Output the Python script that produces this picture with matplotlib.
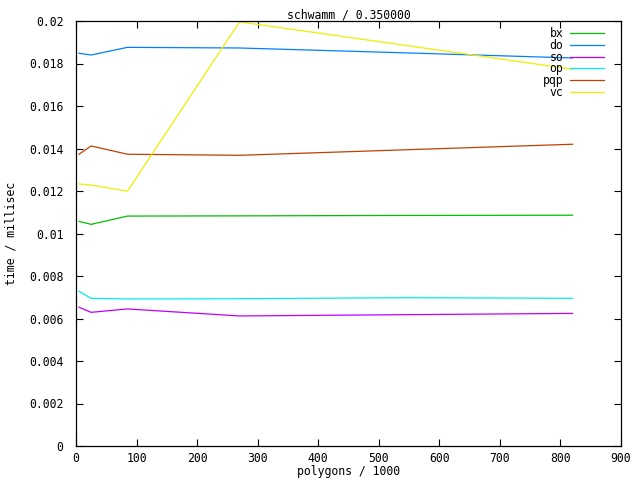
import matplotlib
matplotlib.use("Agg")
import matplotlib.pyplot as plt
from matplotlib.ticker import FuncFormatter, MultipleLocator

polygons = [5, 25, 85, 270, 545, 820]
bx = [0.01057, 0.01043, 0.01082, 0.01083, 0.01085, 0.01086]
do = [0.01848, 0.01840, 0.01876, 0.01873, 0.01850, 0.01826]
so = [0.00653, 0.00629, 0.00645, 0.00612, 0.00618, 0.00624]
op = [0.00728, 0.00695, 0.00692, 0.00693, 0.00698, 0.00695]
pqp = [0.01373, 0.01412, 0.01373, 0.01368, 0.01394, 0.01420]
vc = [0.01233, 0.01228, 0.01199, 0.01996, 0.01885, 0.01773]

series = [("bx", bx, "#00c000"), ("do", do, "#0080ff"), ("so", so, "#c000ff"),
          ("op", op, "#00eeee"), ("pqp", pqp, "#c04000"), ("vc", vc, "#eeee00")]

FS = 8.3
plt.rcParams['font.family'] = ['DejaVu Sans Mono']
fig = plt.figure(figsize=(6.4, 4.8), dpi=100)
ax = fig.add_axes([76/640, 1-446/480, 545/640, 425/480])

for name, vals, col in series:
    ax.plot(polygons, vals, color=col, lw=0.9, label=name)

ax.set_xlim(0, 900)
ax.set_ylim(0, 0.02)
ax.xaxis.set_major_locator(MultipleLocator(100))
ax.yaxis.set_major_locator(MultipleLocator(0.002))
ax.yaxis.set_major_formatter(FuncFormatter(lambda v, p: "%g" % round(v, 6)))
ax.tick_params(direction='in', length=5, width=0.8, top=True, right=True,
               labelsize=FS)
ax.tick_params(axis='y', pad=9)
ax.tick_params(axis='x', pad=4)
for s in ax.spines.values():
    s.set_linewidth(0.9)

ax.set_title("schwamm / 0.350000", fontsize=FS, pad=2)
ax.set_xlabel("polygons / 1000", fontsize=FS)
ax.set_ylabel("time / millisec", fontsize=FS)
ax.xaxis.set_label_coords(0.5, (446 - 465) / 425)
ax.yaxis.set_label_coords((18 - 76) / 545, 0.5)

leg = ax.legend(loc='upper right', bbox_to_anchor=(1-12/545, 1-1/425),
                markerfirst=False, frameon=False, fontsize=FS,
                handlelength=3.0, handletextpad=0.55, labelspacing=-0.09,
                borderaxespad=0)

fig.savefig("out.png", dpi=100)
